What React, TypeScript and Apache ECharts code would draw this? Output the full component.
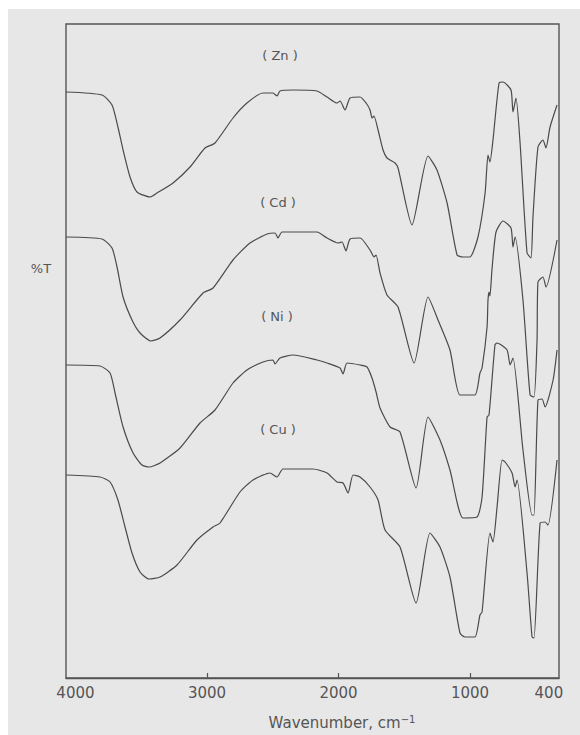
import React, { useEffect, useRef } from "react";
import * as echarts from "echarts";

// Wavenumber (cm-1) and relative transmittance (offset traces, arbitrary units)
const znSpectrum: [number, number][] = [
  [4072, 586], [3798, 583], [3722, 573], [3677, 551], [3638, 528], [3585, 501], [3532, 486],
  [3433, 481], [3380, 485], [3258, 495], [3129, 511], [3015, 530], [2939, 535], [2802, 560],
  [2696, 575], [2574, 585], [2498, 585], [2467, 582], [2445, 587], [2346, 588], [2163, 587],
  [2087, 581], [2011, 575], [1988, 577], [1950, 568], [1912, 580], [1836, 581], [1790, 575],
  [1760, 568], [1745, 560], [1730, 562], [1699, 548], [1661, 528], [1631, 520], [1570, 515],
  [1547, 510], [1441, 453], [1319, 522], [1251, 508], [1174, 475], [1098, 423], [1053, 421],
  [1000, 421], [939, 441], [885, 485], [863, 523], [848, 516], [825, 538], [779, 595],
  [749, 596], [688, 588], [673, 566], [650, 580], [619, 535], [566, 425], [536, 420],
  [521, 461], [483, 531], [445, 538], [422, 530], [391, 551], [338, 573],
];

const cdSpectrum: [number, number][] = [
  [4072, 441], [3798, 439], [3722, 430], [3684, 411], [3638, 381], [3570, 358], [3509, 345],
  [3426, 337], [3357, 340], [3205, 358], [3030, 385], [2954, 390], [2802, 418], [2673, 435],
  [2543, 444], [2483, 445], [2460, 440], [2429, 446], [2163, 446], [2087, 440], [2003, 435],
  [1973, 436], [1943, 427], [1912, 439], [1836, 440], [1760, 428], [1730, 421], [1714, 423],
  [1684, 405], [1631, 383], [1547, 371], [1425, 315], [1319, 381], [1243, 358], [1152, 328],
  [1076, 283], [962, 283], [924, 305], [908, 310], [870, 351], [863, 378], [855, 386],
  [848, 382], [833, 408], [802, 446], [749, 457], [688, 450], [673, 431], [657, 441],
  [597, 378], [543, 283], [513, 281], [490, 338], [483, 396], [445, 401], [422, 391],
  [338, 438],
];

const niSpectrum: [number, number][] = [
  [4072, 313], [3813, 312], [3737, 305], [3699, 285], [3638, 251], [3562, 225], [3494, 213],
  [3441, 211], [3357, 215], [3205, 230], [3053, 255], [2939, 268], [2802, 295], [2696, 308],
  [2574, 316], [2498, 318], [2483, 314], [2445, 320], [2346, 323], [2163, 318], [2087, 315],
  [1988, 310], [1965, 304], [1935, 315], [1836, 313], [1783, 311], [1745, 300], [1714, 286],
  [1684, 270], [1608, 251], [1532, 246], [1410, 190], [1319, 261], [1228, 238], [1152, 208],
  [1053, 160], [946, 161], [908, 181], [870, 261], [855, 263], [810, 333], [794, 335],
  [718, 328], [695, 313], [673, 320], [597, 228], [528, 163], [513, 163], [483, 278],
  [452, 279], [429, 271], [368, 298], [338, 328],
];

const cuSpectrum: [number, number][] = [
  [4072, 203], [3813, 201], [3737, 196], [3677, 178], [3623, 151], [3570, 125], [3509, 106],
  [3441, 99], [3357, 101], [3228, 113], [3076, 138], [2954, 151], [2901, 155], [2749, 186],
  [2650, 198], [2521, 205], [2467, 201], [2422, 209], [2194, 209], [2087, 205], [2011, 196],
  [1965, 195], [1927, 185], [1889, 203], [1836, 201], [1760, 191], [1699, 178], [1646, 148],
  [1532, 131], [1410, 75], [1304, 145], [1228, 131], [1152, 101], [1076, 45], [1038, 41],
  [962, 41], [924, 63], [908, 66], [848, 145], [825, 136], [794, 171], [756, 218],
  [733, 216], [680, 205], [657, 191], [642, 198], [566, 105], [528, 41], [513, 40],
  [467, 155], [429, 156], [407, 153], [338, 218],
];

const seriesNames = ["Zn", "Cd", "Ni", "Cu"];
const xTickLabels = [4000, 3000, 2000, 1000, 400];
const xTickMarks = [3000, 2000, 1000];

const INK = "#555555";
const FONT = "DejaVu Sans";

export default function App() {
  const ref = useRef<HTMLDivElement>(null);

  useEffect(() => {
    if (!ref.current) return;
    const chart = echarts.init(ref.current, undefined, { renderer: "svg" });
    const all = [znSpectrum, cdSpectrum, niSpectrum, cuSpectrum];
    const labelPos = [
      [272, 46],
      [270, 193],
      [269, 307],
      [270, 420],
    ];
    chart.setOption({
      animation: false,
      backgroundColor: "#e7e7e7",
      grid: {
        left: 58,
        top: 15,
        right: 21,
        bottom: 57,
        show: true,
        borderColor: INK,
        borderWidth: 1.4,
      },
      xAxis: {
        type: "value",
        inverse: true,
        min: 323,
        max: 4072,
        splitLine: { show: false },
        axisLine: { show: true, lineStyle: { color: INK, width: 1.4 } },
        axisTick: {
          show: true,
          inside: true,
          length: 5,
          customValues: xTickMarks,
          lineStyle: { color: INK, width: 1.2 },
        },
        axisLabel: {
          customValues: xTickLabels,
          formatter: (v: number) => String(v),
          color: INK,
          fontFamily: FONT,
          fontSize: 15,
          margin: 7,
        },
      },
      yAxis: {
        type: "value",
        min: 0,
        max: 654,
        show: false,
      },
      series: all.map((d, i) => ({
        name: seriesNames[i],
        type: "line",
        data: d,
        showSymbol: false,
        smooth: 0.2,
        lineStyle: { color: "#4a4a4a", width: 1.2 },
      })),
      graphic: [
        ...seriesNames.map((n, i) => ({
          type: "text",
          x: labelPos[i][0],
          y: labelPos[i][1],
          style: {
            text: "( " + n + " )",
            fill: INK,
            font: `13px "${FONT}"`,
            align: "center",
            verticalAlign: "middle",
          },
        })),
        {
          type: "text",
          x: 33,
          y: 259,
          style: {
            text: "%T",
            fill: INK,
            font: `13px "${FONT}"`,
            align: "center",
            verticalAlign: "middle",
          },
        },
        {
          type: "text",
          x: 334,
          y: 714,
          style: {
            text: "Wavenumber, cm{sup|−1}",
            fill: INK,
            font: `15px "${FONT}"`,
            align: "center",
            verticalAlign: "middle",
            rich: {
              sup: {
                fontSize: 10,
                fill: INK,
                fontFamily: FONT,
                verticalAlign: "top",
                padding: [0, 0, 8, 0],
              },
            },
          },
        },
      ],
    });
    return () => chart.dispose();
  }, []);

  return (
    <div
      ref={ref}
      style={{ position: "fixed", left: 8, top: 9, width: 572, height: 726 }}
    />
  );
}
